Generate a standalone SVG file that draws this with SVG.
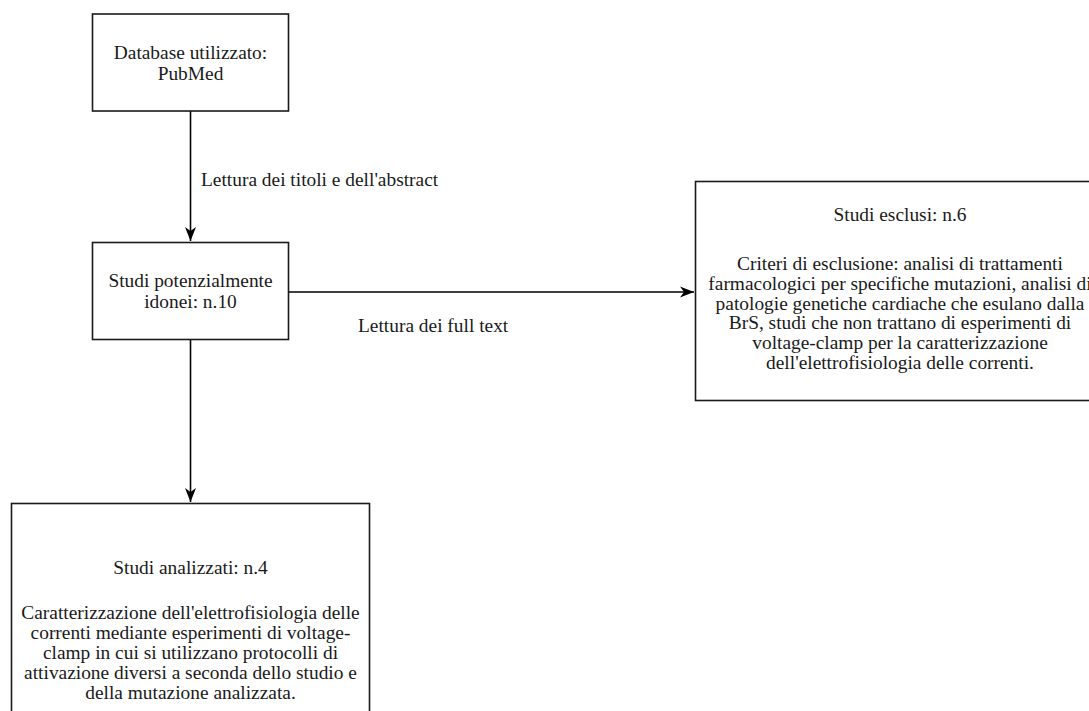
<svg xmlns="http://www.w3.org/2000/svg" width="1089" height="711" viewBox="0 0 1089 711">
  <style>
    .box { fill: #ffffff; stroke: #1a1a1a; stroke-width: 1.6; }
    .t { font-family: 'Liberation Serif', 'DejaVu Serif', Tinos, 'Times New Roman', Times, serif; font-size: 19.4px; fill: #1a1a1a; }
    .c { text-anchor: middle; }
    .edge { stroke: #000000; stroke-width: 1.6; fill: none; }
  </style>
  <defs>
    <marker id="arr" markerWidth="16" markerHeight="14" refX="14" refY="7" orient="auto" markerUnits="userSpaceOnUse">
      <path d="M0,1.5 L14,7 L0,12.5 L4,7 Z" fill="#000000"/>
    </marker>
  </defs>
  <rect width="1089" height="711" fill="#ffffff"/>

  <g id="connectors">
    <line class="edge" x1="190.5" y1="111" x2="190.5" y2="241" marker-end="url(#arr)"/>
    <line class="edge" x1="288" y1="292" x2="694" y2="292" marker-end="url(#arr)"/>
    <line class="edge" x1="190.5" y1="340" x2="190.5" y2="502" marker-end="url(#arr)"/>
    <text class="t" x="201" y="186">Lettura dei titoli e dell'abstract</text>
    <text class="t" x="358" y="332">Lettura dei full text</text>
  </g>

  <g id="node-database">
    <rect class="box" x="92.5" y="14" width="196" height="97"/>
    <text class="t c" x="190.5" y="59">Database utilizzato:</text>
    <text class="t c" x="190.5" y="80">PubMed</text>
  </g>

  <g id="node-potenziali">
    <rect class="box" x="92.5" y="242.5" width="196" height="97"/>
    <text class="t c" x="190.5" y="287">Studi potenzialmente</text>
    <text class="t c" x="190.5" y="308">idonei: n.10</text>
  </g>

  <g id="node-esclusi">
    <rect class="box" x="695.5" y="181.5" width="410" height="219"/>
    <text class="t c" x="900" y="221">Studi esclusi: n.6</text>
    <text class="t c" x="900" y="270">Criteri di esclusione: analisi di trattamenti</text>
    <text class="t c" x="900" y="290">farmacologici per specifiche mutazioni, analisi di</text>
    <text class="t c" x="900" y="310">patologie genetiche cardiache che esulano dalla</text>
    <text class="t c" x="900" y="329">BrS, studi che non trattano di esperimenti di</text>
    <text class="t c" x="900" y="349">voltage-clamp per la caratterizzazione</text>
    <text class="t c" x="900" y="369">dell'elettrofisiologia delle correnti.</text>
  </g>

  <g id="node-analizzati">
    <rect class="box" x="11.5" y="503.5" width="358" height="280"/>
    <text class="t c" x="190.5" y="574">Studi analizzati: n.4</text>
    <text class="t c" x="190.5" y="619">Caratterizzazione dell'elettrofisiologia delle</text>
    <text class="t c" x="190.5" y="639">correnti mediante esperimenti di voltage-</text>
    <text class="t c" x="190.5" y="659">clamp in cui si utilizzano protocolli di</text>
    <text class="t c" x="190.5" y="679">attivazione diversi a seconda dello studio e</text>
    <text class="t c" x="190.5" y="699">della mutazione analizzata.</text>
  </g>
</svg>
